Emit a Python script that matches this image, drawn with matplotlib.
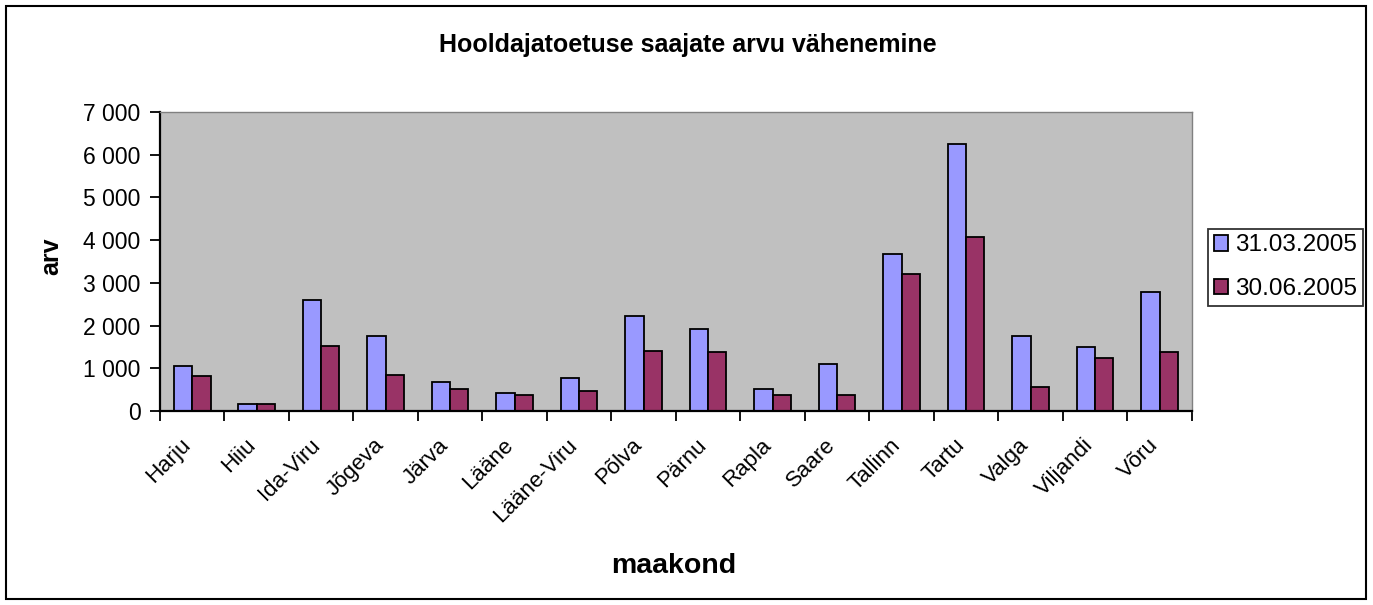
import matplotlib.pyplot as plt
import matplotlib.transforms as mtransforms
import numpy as np

plt.rcParams['font.family'] = ['Liberation Sans', 'DejaVu Sans']

maakonnad = ['Harju', 'Hiiu', 'Ida-Viru', 'Jõgeva', 'Järva', 'Lääne', 'Lääne-Viru',
             'Põlva', 'Pärnu', 'Rapla', 'Saare', 'Tallinn', 'Tartu', 'Valga',
             'Viljandi', 'Võru']
saajad_mar = [1060, 170, 2600, 1750, 680, 420, 780, 2220, 1920, 515, 1110, 3680, 6240, 1750, 1500, 2780]
saajad_jun = [815, 170, 1530, 850, 515, 385, 470, 1415, 1370, 385, 385, 3210, 4070, 560, 1245, 1370]
seeriad = ['31.03.2005', '30.06.2005']
yticks = [0, 1000, 2000, 3000, 4000, 5000, 6000, 7000]

fig = plt.figure(figsize=(13.73, 6.05), dpi=100)
ax = fig.add_axes([0.1165, 0.3207, 0.7515, 0.4943])
ax.set_facecolor('#C0C0C0')

x = np.arange(len(maakonnad))
w = 0.284
ax.bar(x - w / 2, saajad_mar, w, color='#9999FF', edgecolor='black', linewidth=1.3, label=seeriad[0])
ax.bar(x + w / 2, saajad_jun, w, color='#993366', edgecolor='black', linewidth=1.3, label=seeriad[1])

ax.set_xlim(-0.5, len(maakonnad) - 0.5)
ax.set_ylim(0, 7000)
ax.set_yticks(yticks)
ax.set_yticklabels([f'{v:,}'.replace(',', ' ') for v in yticks], fontsize=16.5)

# ticks between the groups, labels at the centres
ax.set_xticks(np.arange(len(maakonnad) + 1) - 0.5)
ax.set_xticklabels([])
ax.set_xticks(x, minor=True)
ax.set_xticklabels(maakonnad, minor=True, rotation=45, ha='right', va='top',
                   rotation_mode='anchor', fontsize=16)
ax.tick_params(axis='x', which='minor', length=0, pad=17)
ax.tick_params(axis='x', which='major', length=7, width=1.3, direction='out')
ax.tick_params(axis='y', length=7, width=1.3, direction='out', pad=7)
shift = mtransforms.ScaledTranslation(-0.12, 0, fig.dpi_scale_trans)
for lab in ax.get_xticklabels(minor=True):
    lab.set_transform(lab.get_transform() + shift)

for s in ['left', 'bottom']:
    ax.spines[s].set_linewidth(1.6)
    ax.spines[s].set_color('black')
for s in ['top', 'right']:
    ax.spines[s].set_color('#808080')
    ax.spines[s].set_linewidth(1)

fig.text(0.037, 0.577, 'arv', fontsize=18, fontweight='bold', rotation=90, ha='center', va='center')
fig.text(0.491, 0.064, 'maakond', fontsize=20.5, fontweight='bold', ha='center', va='center')
fig.text(0.501, 0.926, 'Hooldajatoetuse saajate arvu vähenemine', fontsize=18,
         fontweight='bold', ha='center', va='center')

leg = ax.legend(loc='center left', bbox_to_anchor=(0.88, 0.558), bbox_transform=fig.transFigure,
                fontsize=17.5, frameon=True, fancybox=False, edgecolor='black',
                handlelength=0.6, handleheight=0.6, handletextpad=0.3, borderpad=0.22,
                labelspacing=0.9, borderaxespad=0)
leg.get_frame().set_linewidth(1.3)

fig.patches.append(plt.Rectangle((6 / 1373, 6 / 605), 1360 / 1373, 593 / 605, transform=fig.transFigure,
                                 fill=False, edgecolor='black', linewidth=1.5))

fig.savefig('out.png', dpi=100)
